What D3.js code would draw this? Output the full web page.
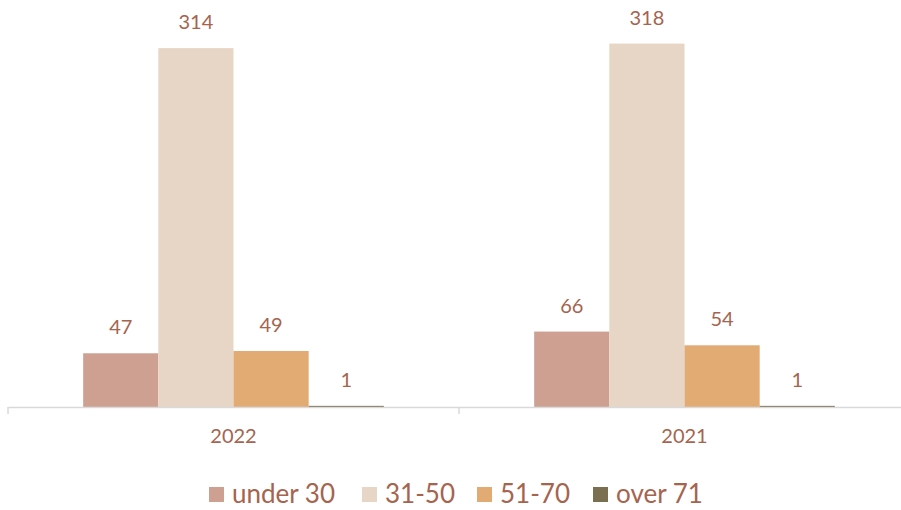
<!DOCTYPE html>
<html>
<head>
<meta charset="utf-8">
<script src="https://cdn.jsdelivr.net/npm/d3@7"></script>
<style>
body{margin:0;background:#fff;}
svg text{font-family:Lato,"Open Sans",sans-serif;}
</style>
</head>
<body>
<svg id="chart" width="901" height="510"></svg>
<script>
var years=["2022","2021"];
var groups=["under 30","31-50","51-70","over 71"];
var val2022=[47,314,49,1];
var val2021=[66,318,54,1];
var colors=["#CDA092","#E7D6C5","#E3AB74","#7B6F52"];

var rows=[val2022,val2021];
var textColor="#A5644E";

var svg=d3.select("#chart");

var x0=d3.scaleBand()
	.domain(years)
	.range([8,910]);

// bars fill the middle 4/6 of each band
var x1=d3.scaleBand()
	.domain(groups)
	.range([x0.bandwidth()/6, x0.bandwidth()*5/6]);

var y=d3.scaleLinear()
	.domain([0,350])
	.range([407,7]);

var g=svg.selectAll("g.year")
	.data(years)
	.enter()
	.append("g")
	.attr("class","year")
	.attr("transform",function(d){return "translate("+x0(d)+",0)";});

g.selectAll("rect")
	.data(function(d,i){
		return groups.map(function(k,j){return {key:k,value:rows[i][j],c:colors[j]};});
	})
	.enter()
	.append("rect")
	.attr("x",function(d){return x1(d.key);})
	.attr("y",function(d){return y(d.value);})
	.attr("width",x1.bandwidth())
	.attr("height",function(d){return y(0)-y(d.value);})
	.style("fill",function(d){return d.c;});

g.selectAll("text.lbl")
	.data(function(d,i){
		return groups.map(function(k,j){return {key:k,value:rows[i][j]};});
	})
	.enter()
	.append("text")
	.attr("class","lbl")
	.attr("x",function(d){return x1(d.key)+x1.bandwidth()/2;})
	.attr("y",function(d){return y(d.value)-19;})
	.attr("text-anchor","middle")
	.style("font-size","20px")
	.style("fill",textColor)
	.text(function(d){return d.value;});

// x axis
var axis=svg.append("g")
	.attr("transform","translate(0,407)")
	.call(d3.axisBottom(x0).tickSize(0).tickPadding(22));
axis.select(".domain").attr("stroke","#D9D9D9").attr("stroke-width",1.5);
axis.selectAll(".tick text")
	.style("font-size","20px")
	.style("fill",textColor)
	.style("font-family","Lato,sans-serif");

// tick marks at band edges
var edges=[x0.range()[0]].concat(years.map(function(d){return x0(d)+x0.bandwidth();}));
svg.selectAll("line.edge")
	.data(edges)
	.enter()
	.append("line")
	.attr("class","edge")
	.attr("x1",function(d){return d;})
	.attr("x2",function(d){return d;})
	.attr("y1",407)
	.attr("y2",414)
	.attr("stroke","#D9D9D9")
	.attr("stroke-width",1.5);

// legend
var legX=[209,362,477,593];
var leg=svg.selectAll("g.leg")
	.data(groups)
	.enter()
	.append("g")
	.attr("class","leg")
	.attr("transform",function(d,i){return "translate("+legX[i]+",487)";});
leg.append("rect")
	.attr("width",15)
	.attr("height",15)
	.style("fill",function(d,i){return colors[i];});
leg.append("text")
	.attr("x",23)
	.attr("y",16)
	.style("font-size","26px")
	.style("fill",textColor)
	.text(function(d){return d;});
</script>
</body>
</html>
